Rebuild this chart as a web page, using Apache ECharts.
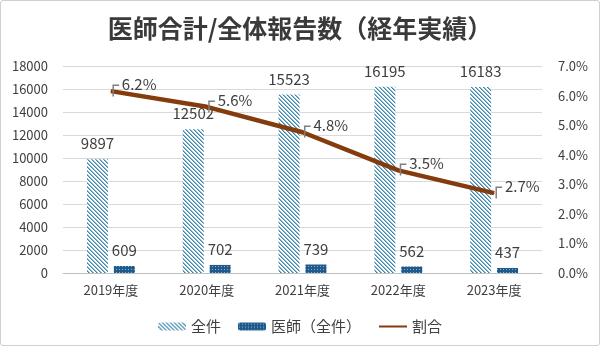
<!DOCTYPE html>
<html>
<head>
<meta charset="utf-8">
<script src="https://cdn.jsdelivr.net/npm/echarts@6/dist/echarts.min.js"></script>
<style>
html,body{margin:0;padding:0;background:#fff;}
#wrap{width:600px;height:346px;box-sizing:border-box;border:1px solid #d0d0d0;border-radius:3px;overflow:hidden;}
#chart{width:598px;height:344px;}
</style>
</head>
<body>
<div id="wrap"><div id="chart"></div></div>
<script>
// ---- data ----
const titleText = '医師合計/全体報告数（経年実績）';
const categories = ['2019年度', '2020年度', '2021年度', '2022年度', '2023年度'];
const totalReports = [9897, 12502, 15523, 16195, 16183];
const doctorReports = [609, 702, 739, 562, 437];
const ratioPercent = [6.15, 5.62, 4.76, 3.47, 2.70];
const seriesNames = ['全件', '医師（全件）', '割合'];
const leftAxisRange = { min: 0, max: 18000, interval: 2000 };
const rightAxisRange = { min: 0, max: 7, interval: 1 };

// ---- patterns ----
function stripePattern() {
  const c = document.createElement('canvas');
  c.width = 4; c.height = 4;
  const g = c.getContext('2d');
  g.fillStyle = '#ffffff'; g.fillRect(0, 0, 4, 4);
  g.fillStyle = '#3f86a8';
  for (let i = 0; i < 4; i++) { g.fillRect(i, i, 1, 1); }
  g.fillStyle = '#8cbad2';
  for (let i = 0; i < 4; i++) { g.fillRect((i + 1) % 4, i, 1, 1); }
  return c;
}
function dotPattern() {
  const c = document.createElement('canvas');
  c.width = 3; c.height = 3;
  const g = c.getContext('2d');
  g.fillStyle = '#1f5a8a'; g.fillRect(0, 0, 3, 3);
  g.fillStyle = '#86b2d4'; g.fillRect(1, 1, 1, 1);
  return c;
}

const FONT = '"Noto Sans CJK JP", "Noto Sans", sans-serif';
const TXT = '#404040';

const chart = echarts.init(document.getElementById('chart'), null, { renderer: 'canvas' });
chart.setOption({
  animation: false,
  textStyle: { fontFamily: FONT },
  title: {
    text: titleText,
    left: 'center',
    top: 10,
    textStyle: { fontFamily: FONT, fontSize: 25, fontWeight: 'bold', color: '#3a3a3a' }
  },
  legend: {
    top: 313,
    left: 'center',
    itemWidth: 28,
    itemHeight: 8,
    itemGap: 17,
    textStyle: { fontFamily: FONT, fontSize: 15, color: TXT },
    data: [
      { name: seriesNames[0] },
      { name: seriesNames[1] },
      { name: seriesNames[2], itemStyle: { opacity: 0 } }
    ]
  },
  grid: { left: 62, right: 57, top: 65, bottom: 72, containLabel: false },
  xAxis: {
    type: 'category',
    data: categories,
    axisTick: { show: false },
    axisLine: { lineStyle: { color: '#bfbfbf', width: 1 } },
    axisLabel: { fontFamily: FONT, fontSize: 13, color: TXT, margin: 11 }
  },
  yAxis: [
    {
      type: 'value',
      min: leftAxisRange.min, max: leftAxisRange.max, interval: leftAxisRange.interval,
      axisLine: { show: false }, axisTick: { show: false },
      splitLine: { lineStyle: { color: '#d9d9d9', width: 1 } },
      axisLabel: { fontFamily: FONT, fontSize: 13, color: TXT, margin: 15,
        formatter: v => String(v) }
    },
    {
      type: 'value',
      min: rightAxisRange.min, max: rightAxisRange.max, interval: rightAxisRange.interval,
      axisLine: { show: false }, axisTick: { show: false },
      splitLine: { show: false },
      axisLabel: { fontFamily: FONT, fontSize: 13, color: TXT, margin: 16,
        formatter: v => v.toFixed(1) + '%' }
    }
  ],
  series: [
    {
      name: seriesNames[0],
      type: 'bar',
      data: totalReports,
      barWidth: 21,
      barGap: '28%',
      itemStyle: { color: { image: stripePattern(), repeat: 'repeat' } },
      label: { show: true, position: 'top', distance: 8, fontFamily: FONT, fontSize: 15, color: TXT }
    },
    {
      name: seriesNames[1],
      type: 'bar',
      data: doctorReports,
      barWidth: 21,
      itemStyle: { color: { image: dotPattern(), repeat: 'repeat' } },
      label: { show: true, position: 'top', distance: 8, fontFamily: FONT, fontSize: 15, color: TXT }
    },
    {
      name: seriesNames[2],
      type: 'line',
      yAxisIndex: 1,
      data: ratioPercent,
      symbol: 'circle',
      symbolSize: 1,
      itemStyle: { color: '#843c0c' },
      lineStyle: { color: '#843c0c', width: 4.5 },
      label: {
        show: true, position: 'right', distance: 0, offset: [-4, -4],
        fontFamily: FONT, fontSize: 15, color: TXT,
        formatter: p => '{g|┌}{t|' + p.value.toFixed(1) + '%}',
        rich: {
          g: { fontFamily: '"DejaVu Sans"', fontSize: 19, color: '#7f7f7f', padding: [0, 3, 0, 0] },
          t: { fontFamily: FONT, fontSize: 15, color: TXT, padding: [0, 0, 6, 0] }
        }
      },
      z: 5
    }
  ]
});
</script>
</body>
</html>
